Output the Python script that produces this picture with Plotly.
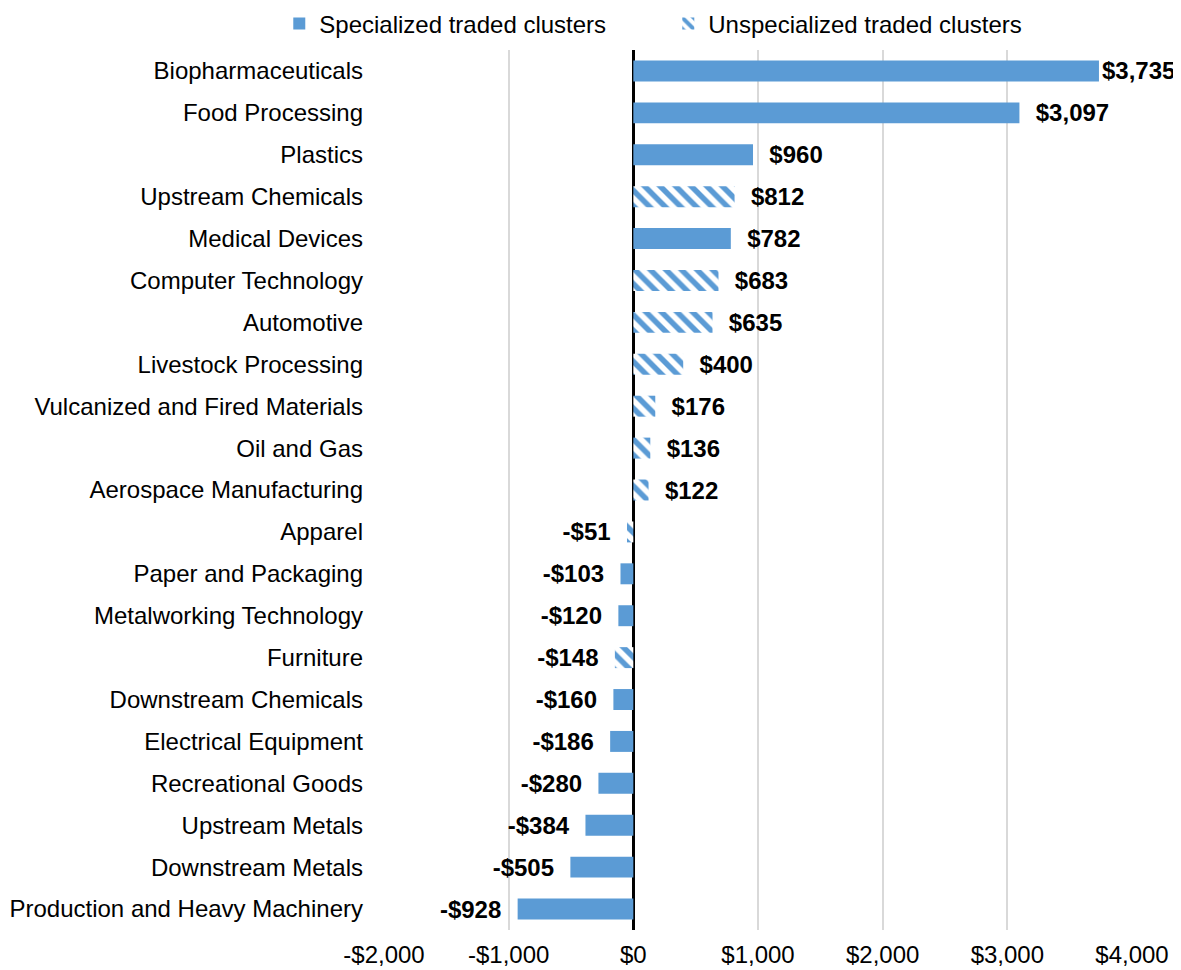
import plotly.graph_objects as go

categories = [
    "Biopharmaceuticals", "Food Processing", "Plastics", "Upstream Chemicals",
    "Medical Devices", "Computer Technology", "Automotive", "Livestock Processing",
    "Vulcanized and Fired Materials", "Oil and Gas", "Aerospace Manufacturing",
    "Apparel", "Paper and Packaging", "Metalworking Technology", "Furniture",
    "Downstream Chemicals", "Electrical Equipment", "Recreational Goods",
    "Upstream Metals", "Downstream Metals", "Production and Heavy Machinery",
]
values = [3735, 3097, 960, 812, 782, 683, 635, 400, 176, 136, 122,
          -51, -103, -120, -148, -160, -186, -280, -384, -505, -928]
specialized = [True, True, True, False, True, False, False, False, False, False, False,
               False, True, True, False, True, True, True, True, True, True]

tick_vals = [-2000, -1000, 0, 1000, 2000, 3000, 4000]
tick_text = ["-$2,000", "-$1,000", "$0", "$1,000", "$2,000", "$3,000", "$4,000"]

BLUE = "#5B9BD5"
FONT = "Liberation Sans, Arial, sans-serif"
FS = 24
NB = "\u00a0"
VMAX = max(values)


def fmt(v):
    pad = "" if v == VMAX else NB * 2
    if v < 0:
        return f"-${abs(v):,}" + pad
    return pad + f"${v:,}"


def subset(flag):
    ys = [c for c, s in zip(categories, specialized) if s == flag]
    xs = [v for v, s in zip(values, specialized) if s == flag]
    return ys, xs


fig = go.Figure()
ys, xs = subset(True)
fig.add_trace(go.Bar(
    y=ys, x=xs, orientation="h", name="Specialized traded clusters",
    marker=dict(color=BLUE, line=dict(width=0)),
    text=[fmt(v) for v in xs], textposition="outside", cliponaxis=False,
    constraintext="none",
    textfont=dict(family=FONT, size=FS, color="black", weight="bold"),
    width=0.5,
))
ys, xs = subset(False)
fig.add_trace(go.Bar(
    y=ys, x=xs, orientation="h", name="Unspecialized traded clusters",
    marker=dict(color=BLUE, line=dict(width=0),
                pattern=dict(shape="\\", fillmode="replace", bgcolor="white",
                             fgcolor=BLUE, size=11, solidity=0.5)),
    text=[fmt(v) for v in xs], textposition="outside", cliponaxis=False,
    constraintext="none",
    textfont=dict(family=FONT, size=FS, color="black", weight="bold"),
    width=0.5,
))

fig.update_layout(
    width=1181, height=970,
    margin=dict(l=376, r=57, t=42, b=48, autoexpand=False),
    paper_bgcolor="white", plot_bgcolor="white",
    barmode="overlay",
    font=dict(family=FONT, size=FS, color="black"),
    showlegend=True,
    legend=dict(orientation="h", x=-0.14, xanchor="left", y=1.004, yanchor="bottom",
                font=dict(family=FONT, size=FS, color="black"),
                entrywidth=344, bgcolor="rgba(0,0,0,0)"),
    xaxis=dict(range=[-2000, 4000], tickvals=tick_vals, ticktext=tick_text,
               showgrid=True, gridcolor="#D9D9D9", gridwidth=1.5,
               zeroline=True, zerolinecolor="black", zerolinewidth=3,
               showline=False, ticks="", ticklabelstandoff=8, automargin=False,
               tickfont=dict(family=FONT, size=FS, color="black")),
    yaxis=dict(categoryorder="array", categoryarray=categories,
               autorange="reversed", showgrid=False, zeroline=False,
               showline=False, ticks="", ticklabelstandoff=20, automargin=False,
               tickfont=dict(family=FONT, size=FS, color="black")),
)

fig.write_html("out.html")
